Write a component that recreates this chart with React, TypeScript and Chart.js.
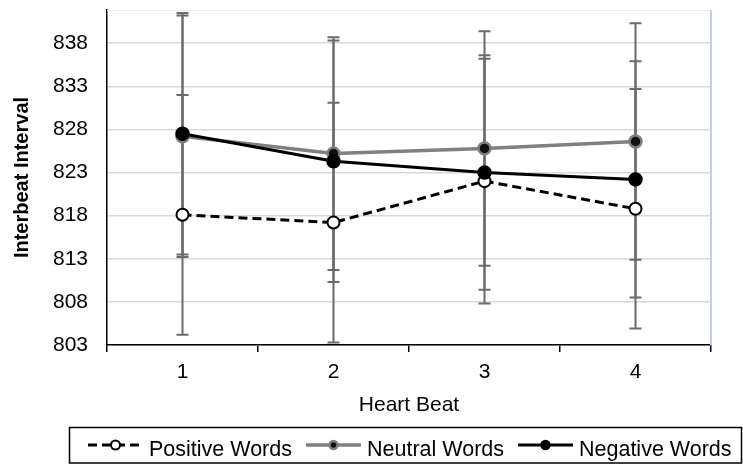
import React, { useEffect, useRef } from "react";
import { Chart, registerables } from "chart.js";

Chart.register(...registerables);

// Heart beat index along the x axis
const beats = ["1", "2", "3", "4"];

// Mean interbeat interval (ms) per word condition
const positiveWords = [818.1, 817.2, 822.0, 818.8];
const neutralWords = [827.2, 825.2, 825.8, 826.6];
const negativeWords = [827.5, 824.3, 823.0, 822.2];

// Error bar half-lengths (ms)
const positiveErr = [13.9, 13.9, 14.2, 13.9];
const neutralErr = [14.0, 13.5, 13.6, 13.7];
const negativeErr = [14.0, 14.0, 13.6, 13.7];

// Y axis tick labels
const yTicks = [803, 808, 813, 818, 823, 828, 833, 838];
const yMin = 803;
const yMax = 841.85;

const FONT = '"Liberation Sans", Arial, sans-serif';

// Draws symmetric error bars behind the lines
const errorBarPlugin = {
  id: "errorBars",
  beforeDatasetsDraw(chart: any) {
    const { ctx, chartArea } = chart;
    const xs = chart.scales.x;
    const ys = chart.scales.y;
    ctx.save();
    // faint plot frame on top and right
    ctx.strokeStyle = "#ececf4";
    ctx.lineWidth = 1;
    ctx.beginPath();
    ctx.moveTo(chartArea.left, chartArea.top + 0.5);
    ctx.lineTo(chartArea.right, chartArea.top + 0.5);
    ctx.stroke();
    ctx.strokeStyle = "#c3cdea";
    ctx.lineWidth = 2;
    ctx.beginPath();
    ctx.moveTo(chartArea.right, chartArea.top);
    ctx.lineTo(chartArea.right, chartArea.bottom);
    ctx.stroke();

    ctx.strokeStyle = "#6b6b6b";
    ctx.lineWidth = 2;
    const cap = 6;
    chart.data.datasets.forEach((ds: any) => {
      const errs: number[] = ds.errors || [];
      ds.data.forEach((v: number, j: number) => {
        const e = errs[j];
        if (e == null) return;
        const x = xs.getPixelForValue(j);
        const yt = ys.getPixelForValue(v + e);
        const yb = ys.getPixelForValue(v - e);
        ctx.beginPath();
        ctx.moveTo(x, yt);
        ctx.lineTo(x, yb);
        ctx.moveTo(x - cap, yt);
        ctx.lineTo(x + cap, yt);
        ctx.moveTo(x - cap, yb);
        ctx.lineTo(x + cap, yb);
        ctx.stroke();
      });
    });
    ctx.restore();
  },
};

// Boxed legend with line + marker samples
const boxLegendPlugin = {
  id: "boxLegend",
  afterDraw(chart: any) {
    const { ctx } = chart;
    ctx.save();
    ctx.strokeStyle = "#000";
    ctx.lineWidth = 1.5;
    ctx.strokeRect(69.5, 427.5, 672, 35.5);

    ctx.font = `21.5px ${FONT}`;
    ctx.textBaseline = "alphabetic";
    ctx.textAlign = "left";
    const cy = 445;
    let x = 88;
    const sampleW = 55;
    chart.data.datasets.forEach((ds: any) => {
      // line sample
      ctx.save();
      ctx.strokeStyle = ds.borderColor;
      ctx.lineWidth = ds.borderWidth;
      ctx.setLineDash(ds.borderDash || []);
      ctx.beginPath();
      ctx.moveTo(x, cy);
      ctx.lineTo(x + sampleW, cy);
      ctx.stroke();
      ctx.restore();
      // marker sample
      ctx.save();
      ctx.beginPath();
      ctx.arc(x + sampleW / 2, cy, ds.legendRadius, 0, Math.PI * 2);
      ctx.fillStyle = ds.pointBackgroundColor;
      ctx.fill();
      ctx.lineWidth = ds.pointBorderWidth;
      ctx.strokeStyle = ds.pointBorderColor;
      ctx.stroke();
      ctx.restore();
      // label
      const tx = x + sampleW + 6;
      ctx.fillStyle = "#000";
      ctx.fillText(ds.label, tx, 455.5);
      x = tx + ctx.measureText(ds.label).width + 14;
    });
    ctx.restore();
  },
};

export default function App() {
  const canvasRef = useRef<HTMLCanvasElement | null>(null);

  useEffect(() => {
    const canvas = canvasRef.current;
    if (!canvas) return;
    const chart = new Chart(canvas, {
      type: "line",
      data: {
        labels: beats,
        datasets: [
          {
            label: "Positive Words",
            data: positiveWords,
            errors: positiveErr,
            borderColor: "#000000",
            borderWidth: 3,
            borderDash: [9, 5],
            pointBackgroundColor: "#ffffff",
            pointBorderColor: "#000000",
            pointBorderWidth: 2,
            pointRadius: 6,
            legendRadius: 4.5,
            order: 1,
          } as any,
          {
            label: "Neutral Words",
            data: neutralWords,
            errors: neutralErr,
            borderColor: "#808080",
            borderWidth: 3.5,
            pointBackgroundColor: "#111111",
            pointBorderColor: "#7f7f7f",
            pointBorderWidth: 2.5,
            pointRadius: 6,
            legendRadius: 4,
            order: 2,
          } as any,
          {
            label: "Negative Words",
            data: negativeWords,
            errors: negativeErr,
            borderColor: "#000000",
            borderWidth: 3,
            pointBackgroundColor: "#000000",
            pointBorderColor: "#000000",
            pointBorderWidth: 1.5,
            pointRadius: 6.5,
            legendRadius: 4.5,
            order: 0,
          } as any,
        ],
      },
      options: {
        responsive: false,
        animation: false,
        layout: { padding: { left: 0, right: 32, top: 10, bottom: 46 } },
        plugins: {
          legend: { display: false },
          tooltip: { enabled: false },
        },
        elements: { line: { tension: 0 } },
        scales: {
          x: {
            type: "category",
            offset: true,
            grid: {
              offset: true,
              drawOnChartArea: false,
              drawTicks: true,
              tickLength: 7,
              color: "#000",
              lineWidth: 1.5,
            },
            border: { display: true, color: "#000", width: 1.5 },
            ticks: {
              color: "#000",
              padding: 8,
              font: { family: FONT, size: 21 },
              maxRotation: 0,
            },
            title: {
              display: true,
              text: "Heart Beat",
              color: "#000",
              font: { family: FONT, size: 21 },
              padding: { top: 0, bottom: 2 },
            },
            afterFit(scale: any) {
              scale.height = 75;
              scale.paddingLeft = 0;
              scale.paddingRight = 0;
            },
          },
          y: {
            type: "linear",
            min: yMin,
            max: yMax,
            grid: {
              drawTicks: false,
              color: "#d9d9d9",
              lineWidth: 1.5,
            },
            border: { display: true, color: "#000", width: 1.5 },
            ticks: {
              color: "#000",
              padding: 19,
              font: { family: FONT, size: 21 },
            },
            afterBuildTicks(scale: any) {
              scale.ticks = yTicks.map((v) => ({ value: v }));
            },
            title: {
              display: true,
              text: "Interbeat Interval",
              color: "#000",
              font: { family: FONT, size: 20, weight: "bold" },
              padding: { top: 10, bottom: 0 },
            },
            afterFit(scale: any) {
              scale.width = 107;
              scale.paddingTop = 0;
              scale.paddingBottom = 0;
            },
          },
        },
      } as any,
      plugins: [errorBarPlugin, boxLegendPlugin],
    });
    return () => chart.destroy();
  }, []);

  return (
    <div style={{ position: "absolute", left: 0, top: 0, width: 743, height: 466, background: "#fff" }}>
      <canvas ref={canvasRef} width={743} height={466} />
    </div>
  );
}
